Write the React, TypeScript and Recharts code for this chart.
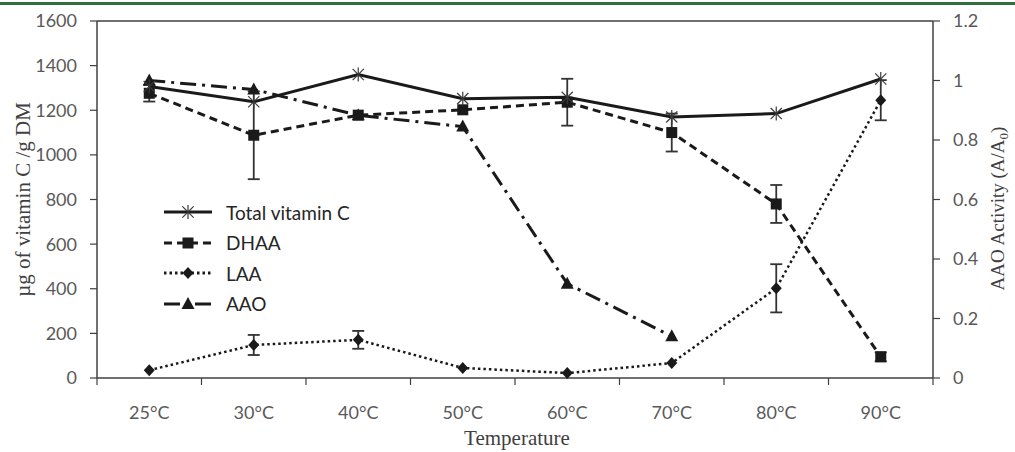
import React from "react";
import { LineChart, Line, XAxis, YAxis, ErrorBar, Label, Customized } from "recharts";

const temps = ["25°C", "30°C", "40°C", "50°C", "60°C", "70°C", "80°C", "90°C"];
const totalVitC = [1306, 1238, 1360, 1252, 1258, 1170, 1185, 1340];
const dhaa = [1276, 1088, 1178, 1202, 1236, 1100, 780, 95];
const dhaaErr = [37, 197, null, null, 105, 85, 85, 20];
const laa = [35, 148, 171, 45, 22, 67, 402, 1245];
const laaErr = [null, 45, 40, null, null, null, 108, 90];
const aao = [1.0, 0.97, 0.883, 0.845, 0.317, 0.14, null, null];

const leftTicks = [0, 200, 400, 600, 800, 1000, 1200, 1400, 1600];
const rightTicks = [0, 0.2, 0.4, 0.6, 0.8, 1, 1.2];

const data = temps.map((t, i) => ({
  temp: t,
  total: totalVitC[i],
  dhaa: dhaa[i],
  dhaaErr: dhaaErr[i],
  laa: laa[i],
  laaErr: laaErr[i],
  aao: aao[i],
}));

const INK = "#1a1a1a";
const AXIS = "#404040";
const TICK_TXT = "#595959";
const SANS = "Lato, 'Noto Sans', sans-serif";
const SERIF = "'Liberation Serif', 'DejaVu Serif', serif";
const HALF = 52.25; // half of one category band
const TOP = 21;
const LEFT_W = 97;
const RIGHT_W = 82;
const W = 1015;
const H = 452;

const starShape = (cx: number, cy: number, r = 7) => (
  <g stroke="#3a3a3a" strokeWidth={1.2}>
    <line x1={cx} y1={cy - r} x2={cx} y2={cy + r} />
    <line x1={cx - r * 0.8} y1={cy - r * 0.8} x2={cx + r * 0.8} y2={cy + r * 0.8} />
    <line x1={cx - r * 0.8} y1={cy + r * 0.8} x2={cx + r * 0.8} y2={cy - r * 0.8} />
  </g>
);
const squareShape = (cx: number, cy: number) => (
  <rect x={cx - 5.5} y={cy - 5.5} width={11} height={11} fill={INK} />
);
const diamondShape = (cx: number, cy: number) => (
  <polygon points={`${cx},${cy - 6} ${cx + 5.5},${cy} ${cx},${cy + 6} ${cx - 5.5},${cy}`} fill={INK} />
);
const triangleShape = (cx: number, cy: number) => (
  <polygon points={`${cx},${cy - 7} ${cx + 6.5},${cy + 5} ${cx - 6.5},${cy + 5}`} fill={INK} />
);

const makeDot = (shape: (cx: number, cy: number) => React.ReactElement) => (p: any) => {
  const { cx, cy, index, value } = p;
  if (cx == null || cy == null || value == null) return <g key={`d-${index}`} />;
  return <g key={`d-${index}`}>{shape(cx, cy)}</g>;
};

const XTick = (p: any) => {
  const { x, y, payload, index } = p;
  return (
    <g>
      <line x1={x - HALF} y1={y} x2={x - HALF} y2={y + 7} stroke={AXIS} strokeWidth={1.2} />
      {index === temps.length - 1 && (
        <line x1={x + HALF} y1={y} x2={x + HALF} y2={y + 7} stroke={AXIS} strokeWidth={1.2} />
      )}
      <text x={x} y={y + 35} dy="0.355em" textAnchor="middle" fill={TICK_TXT} fontFamily={SANS} fontSize={18}>
        {payload.value}
      </text>
    </g>
  );
};

// top edge of the plot frame
const Frame = () => (
  <line x1={LEFT_W} y1={TOP} x2={W - RIGHT_W} y2={TOP} stroke={AXIS} strokeWidth={1.5} />
);

const legendItems = [
  { name: "Total vitamin C", dash: undefined as string | undefined, shape: starShape },
  { name: "DHAA", dash: "8 5", shape: squareShape },
  { name: "LAA", dash: "2.5 3", shape: diamondShape },
  { name: "AAO", dash: "16 6 3 6", shape: triangleShape },
];

function LegendBox() {
  return (
    <div style={{ position: "absolute", left: 162, top: 197 }}>
      {legendItems.map((it) => (
        <div key={it.name} style={{ display: "flex", alignItems: "center", height: 30.5 }}>
          <svg width={52} height={20}>
            <line x1={2} y1={10} x2={50} y2={10} stroke={INK} strokeWidth={3} strokeDasharray={it.dash} />
            {it.shape(26, 10)}
          </svg>
          <span style={{ marginLeft: 12, fontFamily: SANS, fontSize: 19, color: "#262626" }}>{it.name}</span>
        </div>
      ))}
    </div>
  );
}

export default function App() {
  return (
    <div style={{ position: "fixed", left: 0, top: 0, width: W, height: H, background: "#fff", overflow: "hidden" }}>
      <div style={{ height: 3, marginTop: 2, background: "#2f6f42" }} />
      <div style={{ position: "absolute", left: 0, top: 0 }}>
        <LineChart width={W} height={H} data={data} margin={{ top: TOP, right: 0, bottom: 0, left: 0 }}>
          <XAxis
            dataKey="temp"
            height={74}
            padding={{ left: HALF, right: HALF }}
            tickLine={false}
            tickSize={0}
            tickMargin={0}
            axisLine={{ stroke: AXIS, strokeWidth: 1.5 }}
            tick={<XTick />}
            interval={0}
          >
            <Label
              content={(props: any) => {
                const vb = props.viewBox;
                return (
                  <text x={vb.x + vb.width / 2 + 2} y={438} dy="0.355em" textAnchor="middle" fill={AXIS} fontFamily={SERIF} fontSize={21}>
                    Temperature
                  </text>
                );
              }}
            />
          </XAxis>
          <YAxis
            yAxisId="left"
            width={LEFT_W}
            domain={[0, 1600]}
            ticks={leftTicks}
            interval={0}
            tickSize={7}
            tickMargin={13}
            axisLine={{ stroke: AXIS, strokeWidth: 1.5 }}
            tickLine={{ stroke: AXIS, strokeWidth: 1.2 }}
            tick={{ fill: TICK_TXT, fontFamily: SANS, fontSize: 18 }}
          >
            <Label
              content={(props: any) => {
                const vb = props.viewBox;
                const cx = vb.x + 23;
                const cy = vb.y + vb.height / 2;
                return (
                  <text x={cx} y={cy} dy="0.355em" transform={`rotate(-90 ${cx} ${cy})`} textAnchor="middle" fill={AXIS} fontFamily={SERIF} fontSize={21}>
                    µg of vitamin C /g DM
                  </text>
                );
              }}
            />
          </YAxis>
          <YAxis
            yAxisId="right"
            orientation="right"
            width={RIGHT_W}
            domain={[0, 1.2]}
            ticks={rightTicks}
            interval={0}
            tickSize={7}
            tickMargin={13}
            axisLine={{ stroke: AXIS, strokeWidth: 1.5 }}
            tickLine={{ stroke: AXIS, strokeWidth: 1.2 }}
            tick={{ fill: TICK_TXT, fontFamily: SANS, fontSize: 18 }}
          >
            <Label
              content={(props: any) => {
                const vb = props.viewBox;
                const cx = vb.x + 64;
                const cy = vb.y + vb.height / 2 + 9;
                return (
                  <text x={cx} y={cy} dy="0.355em" transform={`rotate(-90 ${cx} ${cy})`} textAnchor="middle" fill={AXIS} fontFamily={SERIF} fontSize={19}>
                    AAO Activity (A/A<tspan fontSize={13} dy={4}>0</tspan><tspan dy={-4}>)</tspan>
                  </text>
                );
              }}
            />
          </YAxis>
          <Customized component={Frame} />

          <Line
            yAxisId="right"
            dataKey="aao"
            stroke={INK}
            strokeWidth={3}
            strokeDasharray="16 6 3 6"
            dot={makeDot(triangleShape)}
            isAnimationActive={false}
          />
          <Line
            yAxisId="left"
            dataKey="laa"
            stroke={INK}
            strokeWidth={2.5}
            strokeDasharray="2.5 3"
            dot={makeDot(diamondShape)}
            isAnimationActive={false}
          >
            <ErrorBar dataKey="laaErr" direction="y" width={6} stroke="#333" strokeWidth={1.8} />
          </Line>
          <Line
            yAxisId="left"
            dataKey="dhaa"
            stroke={INK}
            strokeWidth={3}
            strokeDasharray="8 5"
            dot={makeDot(squareShape)}
            isAnimationActive={false}
          >
            <ErrorBar dataKey="dhaaErr" direction="y" width={6} stroke="#333" strokeWidth={1.8} />
          </Line>
          <Line
            yAxisId="left"
            dataKey="total"
            stroke={INK}
            strokeWidth={3}
            dot={makeDot(starShape)}
            isAnimationActive={false}
          />
        </LineChart>
        <LegendBox />
      </div>
    </div>
  );
}
